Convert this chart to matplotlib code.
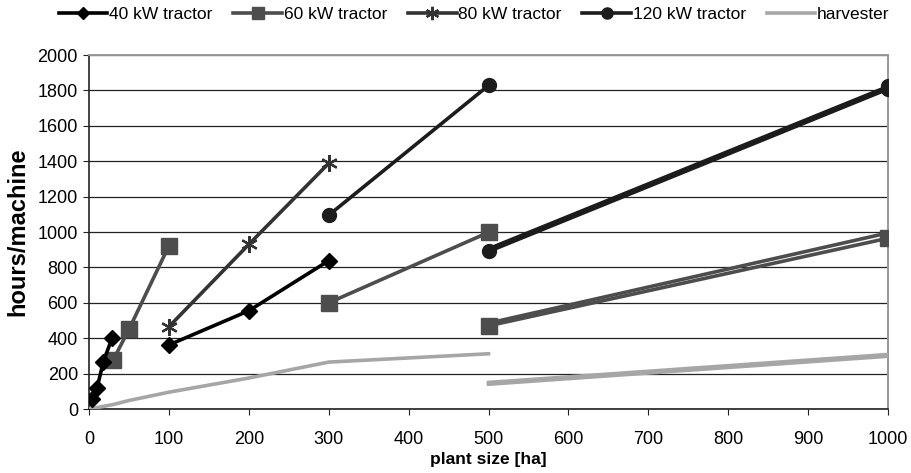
import matplotlib.pyplot as plt

plt.rcParams['font.family'] = ['Liberation Sans', 'DejaVu Sans']

# 40 kW tractor
kw40_x1 = [4, 10, 18, 29]
kw40_y1 = [58, 118, 268, 402]
kw40_x2 = [100, 200, 300]
kw40_y2 = [362, 555, 838]

# 60 kW tractor
kw60_x1 = [30, 50, 100]
kw60_y1 = [275, 450, 922]
kw60_x2 = [300, 500]
kw60_y2 = [600, 998]
kw60_x3 = [500, 1000]
kw60_y3a = [485, 995]
kw60_y3b = [470, 965]

# 80 kW tractor
kw80_x = [100, 200, 300]
kw80_y = [465, 930, 1388]

# 120 kW tractor
kw120_x1 = [300, 500]
kw120_y1 = [1095, 1828]
kw120_x2 = [500, 1000]
kw120_y2a = [905, 1822]
kw120_y2b = [890, 1808]

# harvester
harv_x1 = [0, 10, 30, 50, 100, 200, 300, 500]
harv_y1 = [0, 8, 25, 48, 95, 175, 265, 312]
harv_x2 = [500, 1000]
harv_y2a = [150, 308]
harv_y2b = [140, 298]

c40 = '#000000'
c60 = '#4d4d4d'
c80 = '#333333'
c120 = '#1c1c1c'
charv = '#a6a6a6'

fig = plt.figure(figsize=(9.12, 4.73), dpi=100)
ax = fig.add_axes([0.0976, 0.1353, 0.8761, 0.7484])

lw = 2.6
ax.plot(kw40_x1, kw40_y1, color=c40, lw=lw, marker='D', ms=8, zorder=5, label='40 kW tractor')
ax.plot(kw40_x2, kw40_y2, color=c40, lw=lw, marker='D', ms=8, zorder=5)

ax.plot(kw60_x1, kw60_y1, color=c60, lw=lw, marker='s', ms=11, zorder=4, label='60 kW tractor')
ax.plot(kw60_x2, kw60_y2, color=c60, lw=lw, marker='s', ms=11, zorder=4)
ax.plot(kw60_x3, kw60_y3a, color=c60, lw=lw, zorder=4)
ax.plot(kw60_x3, kw60_y3b, color=c60, lw=lw, zorder=4)
ax.plot(kw60_x3, kw60_y3b, color=c60, lw=0, marker='s', ms=11, zorder=4)

ax.plot(kw80_x, kw80_y, color=c80, lw=lw, marker=(6, 2, 0), ms=12, mew=1.6, zorder=4, label='80 kW tractor')

ax.plot(kw120_x1, kw120_y1, color=c120, lw=lw, marker='o', ms=10, zorder=4, label='120 kW tractor')
ax.plot(kw120_x2, kw120_y2a, color=c120, lw=lw, zorder=4)
ax.plot(kw120_x2, kw120_y2b, color=c120, lw=lw, marker='o', ms=10, zorder=4)
ax.plot([1000], [1825], color=c120, lw=0, marker='o', ms=10, zorder=4)

ax.plot(harv_x1, harv_y1, color=charv, lw=lw, zorder=3, label='harvester')
ax.plot(harv_x2, harv_y2a, color=charv, lw=lw, zorder=3)
ax.plot(harv_x2, harv_y2b, color=charv, lw=lw, zorder=3)

ax.set_xlim(0, 1000)
ax.set_ylim(0, 2000)
ax.set_xticks(range(0, 1001, 100))
ax.set_yticks(range(0, 2001, 200))
ax.yaxis.grid(True, color='#222222', lw=0.9)
ax.set_axisbelow(True)
ax.tick_params(labelsize=13, length=4, direction='out', color='#222222')
ax.tick_params(axis='x', pad=12)
ax.tick_params(axis='y', pad=4)
for s in ['top', 'right']:
    ax.spines[s].set_color('#999999')
    ax.spines[s].set_linewidth(1.4)
for s in ['left', 'bottom']:
    ax.spines[s].set_color('#222222')
    ax.spines[s].set_linewidth(1.2)

ax.set_xlabel('plant size [ha]', fontsize=12.5, fontweight='bold', labelpad=3)
ax.set_ylabel('hours/machine', fontsize=17, fontweight='bold', labelpad=6)

fig.legend(loc='upper center', bbox_to_anchor=(0.52, 1.018), ncol=5, frameon=False,
           fontsize=12.5, handlelength=2.8, handletextpad=0.1, columnspacing=1.2,
           markerscale=0.8)

fig.savefig('out.png', dpi=100)
